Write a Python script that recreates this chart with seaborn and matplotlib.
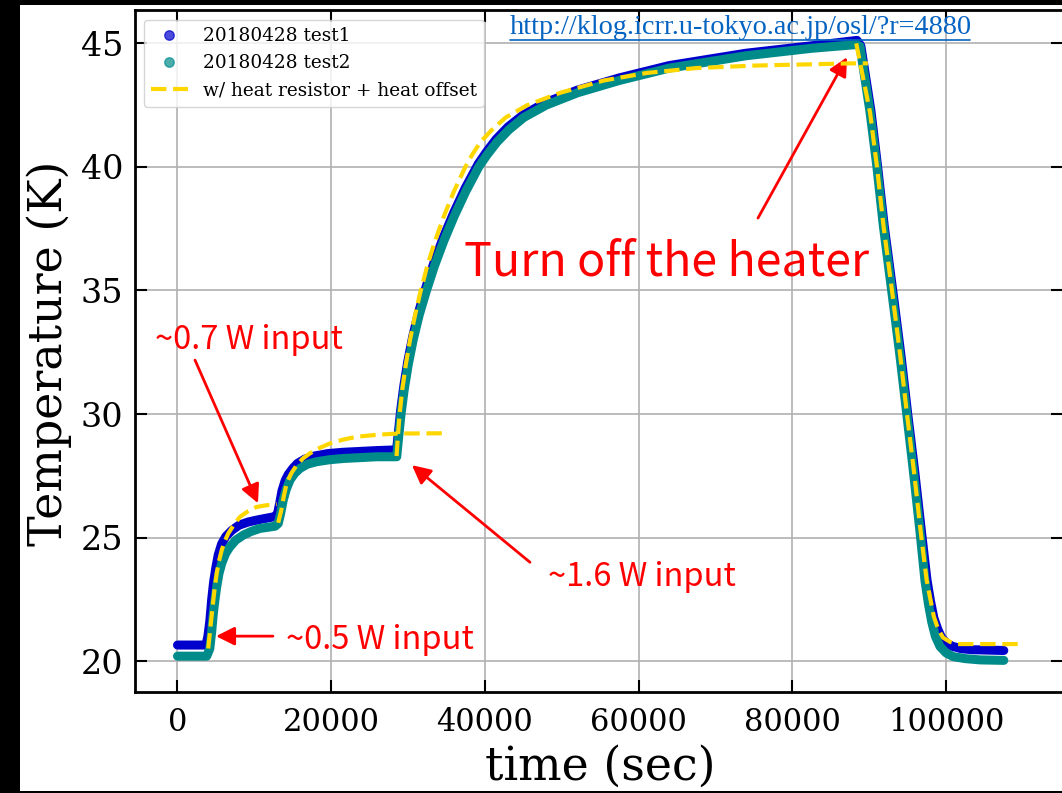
import matplotlib
matplotlib.use("Agg")
import matplotlib.pyplot as plt
from matplotlib.lines import Line2D
from matplotlib.patches import Rectangle
import pandas as pd
import seaborn as sns

# ---- data ----
# test1 (blue)
t1_time = [0, 3700, 3950, 4200, 4450, 4700, 5000, 5300, 5750, 6300, 7100,
           8000, 9200, 10500, 12700,
           13000, 13300, 13600, 14000, 14400, 15000, 15600, 16600, 17800,
           19600, 21500, 25900, 28500,
           28700, 29030, 29450, 29970, 30610, 31390, 32340, 33390, 34590,
           35940, 37440, 39140, 40250, 41450, 43000, 44950, 47850, 51950,
           57450, 63950, 73950, 82450, 88400,
           88900, 90200, 91050, 91950, 93050, 94150, 95000, 95900, 96800,
           97500, 97950, 98400, 98900, 99400, 100100, 100800, 102000, 103500,
           107500]
t1_temp = [20.65, 20.65, 21.0, 21.6, 22.5, 23.2, 23.8, 24.3, 24.75, 25.05,
           25.3, 25.5, 25.63, 25.72, 25.85,
           25.95, 26.4, 26.9, 27.3, 27.55, 27.8, 28.0, 28.18, 28.3,
           28.4, 28.45, 28.52, 28.55,
           29.15, 30.15, 31.15, 32.15, 33.15, 34.15, 35.15, 36.15, 37.15,
           38.15, 39.15, 40.13, 40.63, 41.12, 41.62, 42.1, 42.6, 43.1,
           43.6, 44.1, 44.6, 44.9, 45.12,
           44.9, 42.3, 40.1, 37.6, 35.0, 32.3, 30.0, 27.7, 25.2,
           23.3, 22.45, 21.75, 21.3, 20.95, 20.72, 20.6, 20.5, 20.46,
           20.43]

# test2 (teal)
t2_time = [0, 3800, 4200, 4450, 4660, 4880, 5100, 5400, 5750, 6250, 6830,
           7600, 8560, 9600, 10730, 12690,
           13110, 13400, 13760, 14150, 14640, 15250, 15940, 16900, 18110,
           19800, 21570, 25910, 28520,
           28750, 29080, 29500, 30020, 30660, 31440, 32390, 33440, 34640,
           35990, 37490, 39190, 40300, 41550, 43100, 45050, 47950, 52050,
           57500, 64000, 74000, 82500, 88300,
           88790, 90090, 90960, 91830, 92920, 94000, 94870, 95730, 96600,
           97250, 97700, 98120, 98600, 99200, 100000, 100930, 102500, 104400,
           107500]
t2_temp = [20.2, 20.2, 20.5, 21.2, 21.93, 22.5, 23.01, 23.55, 23.95, 24.35,
           24.63, 24.9, 25.1, 25.25, 25.37, 25.46,
           25.57, 25.95, 26.52, 26.95, 27.33, 27.6, 27.8, 27.97, 28.07,
           28.15, 28.2, 28.27, 28.27,
           29.0, 30.0, 31.0, 32.0, 33.0, 34.0, 35.0, 36.0, 37.0,
           38.0, 39.0, 40.0, 40.5, 41.0, 41.5, 42.0, 42.5, 43.0,
           43.5, 44.0, 44.5, 44.8, 44.95,
           44.88, 42.23, 40.08, 37.61, 34.97, 32.32, 30.01, 27.7, 25.22,
           23.24, 22.3, 21.59, 21.0, 20.59, 20.33, 20.18, 20.1, 20.05,
           20.03]

# model: w/ heat resistor + heat offset (one curve per heater step)
m05_time = [4000, 4330, 4660, 4880, 5100, 5400, 5750, 6150, 6610, 7300,
            8130, 9200, 10300, 11400, 12460, 12900]
m05_temp = [20.51, 21.5, 22.47, 23.05, 23.55, 24.05, 24.49, 24.85, 25.17,
            25.5, 25.84, 26.07, 26.24, 26.3, 26.34, 26.36]
m07_time = [13100, 13500, 13850, 14200, 14800, 15510, 16300, 17240, 18500,
            19840, 21500, 23310, 26000, 28730, 34500]
m07_temp = [25.6, 26.1, 26.7, 27.19, 27.6, 27.93, 28.2, 28.41, 28.63,
            28.81, 28.96, 29.08, 29.16, 29.21, 29.22]
m16_time = [28500, 28650, 28900, 29250, 29700, 30250, 30900, 31650, 32500,
            33500, 34650, 35950, 37450, 38350, 39400, 40900, 42700, 45500,
            49800, 55500, 61000, 67500, 75000, 87650, 89820]
m16_temp = [28.3, 29.0, 30.0, 31.0, 32.0, 33.0, 34.0, 35.0, 36.0,
            37.0, 38.0, 39.0, 40.0, 40.5, 41.0, 41.5, 42.0, 42.5,
            43.0, 43.5, 43.8, 44.0, 44.1, 44.19, 44.19]
moff_time = [88300, 90100, 91000, 91850, 92950, 94050, 94900, 95800, 96700,
             97450, 97950, 98400, 98950, 99600, 100500, 101500, 110000]
moff_temp = [45.0, 42.2, 40.0, 37.6, 35.0, 32.3, 30.0, 27.7, 25.2,
             23.3, 22.5, 21.8, 21.3, 20.95, 20.78, 20.69, 20.69]

xticks = [0, 20000, 40000, 60000, 80000, 100000]
yticks = [20, 25, 30, 35, 40, 45]

test1 = pd.DataFrame({"time": t1_time, "temp": t1_temp})
test2 = pd.DataFrame({"time": t2_time, "temp": t2_temp})
model = pd.concat([
    pd.DataFrame({"time": m05_time, "temp": m05_temp, "step": "0.5W"}),
    pd.DataFrame({"time": m07_time, "temp": m07_temp, "step": "0.7W"}),
    pd.DataFrame({"time": m16_time, "temp": m16_temp, "step": "1.6W"}),
    pd.DataFrame({"time": moff_time, "temp": moff_temp, "step": "off"}),
])

sns.set_style("ticks")
plt.rcParams["font.family"] = ["DejaVu Serif"]
for key in ["text.color", "axes.labelcolor", "xtick.color", "ytick.color"]:
    plt.rcParams[key] = "black"
annot_font = ["Noto Sans CJK JP", "DejaVu Sans"]

W, H = 1062, 793
fig = plt.figure(figsize=(W / 100, H / 100), dpi=100)
fig.patch.set_facecolor("black")
fig.add_artist(Rectangle((20 / W, 2 / H), 1 - 20 / W, 786 / H,
                         transform=fig.transFigure, facecolor="white",
                         edgecolor="none", zorder=-10))

ax = fig.add_axes([134.5 / W, (H - 692) / H, (1063 - 134.5) / W, (692 - 9.5) / H])
ax.set_facecolor("white")

blue = "mediumblue"
teal = "darkcyan"
sns.lineplot(data=test1, x="time", y="temp", ax=ax, color=blue, lw=6.5,
             solid_capstyle="round", solid_joinstyle="round", zorder=3)
sns.lineplot(data=test2, x="time", y="temp", ax=ax, color=teal, lw=6.5,
             solid_capstyle="round", solid_joinstyle="round", zorder=4)
for _, seg in model.groupby("step"):
    sns.lineplot(data=seg, x="time", y="temp", ax=ax, color="gold", lw=3,
                 linestyle="--", zorder=5)

ax.set_xlim(-5594, 115200)
ax.set_ylim(18.75, 46.37)
ax.set_xticks(xticks)
ax.set_yticks(yticks)
ax.grid(True, color="#b0b0b0", lw=1.2)
ax.set_axisbelow(True)
ax.tick_params(direction="in", top=True, right=True, length=8.5, width=1.5,
               colors="black")
ax.tick_params(axis="y", labelsize=24, pad=8)
ax.tick_params(axis="x", labelsize=22, pad=11)
for sp in ax.spines.values():
    sp.set_linewidth(2)
    sp.set_color("black")

ax.set_xlabel("time (sec)", fontsize=33)
ax.set_ylabel("Temperature (K)", fontsize=33)
ax.xaxis.set_label_coords(600 / W, 1 - 744 / H, transform=fig.transFigure)
ax.yaxis.set_label_coords(72 / W, 1 - 353 / H, transform=fig.transFigure)

handles = [
    Line2D([], [], ls="none", marker="o", ms=6.8, color=blue, alpha=0.7),
    Line2D([], [], ls="none", marker="o", ms=6.8, color=teal, alpha=0.7),
    Line2D([], [], ls="--", lw=3, color="gold"),
]
ax.legend(handles, ["20180428 test1", "20180428 test2",
                    "w/ heat resistor + heat offset"],
          loc="upper left", bbox_to_anchor=(143.6 / W, 1 - 19.6 / H),
          bbox_transform=fig.transFigure, borderaxespad=0, fontsize=13.3,
          labelcolor="black")

arrow = dict(arrowstyle="-|>", color="red", lw=2, mutation_scale=28,
             shrinkA=0, shrinkB=0)
ax.annotate("", xy=(10470, 26.39), xytext=(2280, 32.18), arrowprops=arrow)
ax.annotate("", xy=(30500, 27.93), xytext=(45860, 24.0), arrowprops=arrow)
ax.annotate("", xy=(5010, 21.01), xytext=(12420, 21.01), arrowprops=arrow)
ax.annotate("", xy=(87100, 44.44), xytext=(75520, 37.93), arrowprops=arrow)

ax.text(9300, 32.99, "~0.7 W input", color="red", fontsize=23.5,
        ha="center", va="center", family=annot_font)
ax.text(60430, 23.4, "~1.6 W input", color="red", fontsize=23.5,
        ha="center", va="center", family=annot_font)
ax.text(26350, 20.85, "~0.5 W input", color="red", fontsize=23.5,
        ha="center", va="center", family=annot_font)
ax.text(63580, 36.15, "Turn off the heater", color="red", fontsize=33.5,
        ha="center", va="center", family=annot_font)

url_color = "#0563c1"
fig.text(510 / W, 1 - 28 / H, "http://klog.icrr.u-tokyo.ac.jp/osl/?r=4880",
         color=url_color, fontsize=20.3, family="Liberation Serif",
         ha="left", va="center")
fig.add_artist(Line2D([510 / W, 970 / W], [1 - 40 / H, 1 - 40 / H],
                      transform=fig.transFigure, color=url_color, lw=1.2))

fig.savefig("out.png", dpi=100, facecolor=fig.get_facecolor())
